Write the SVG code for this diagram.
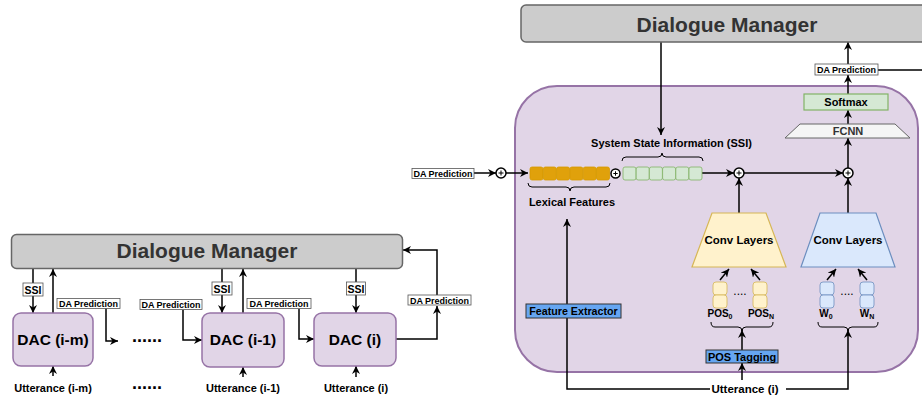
<svg xmlns="http://www.w3.org/2000/svg" width="922" height="400" viewBox="0 0 922 400">
<defs>
<marker id="a" viewBox="0 0 10 10" refX="10" refY="5" markerWidth="8" markerHeight="8" markerUnits="userSpaceOnUse" orient="auto">
<path d="M0,0 L10,5 L0,10 L3,5 z" fill="#000"/>
</marker>
<style>
text{font-family:"Liberation Sans",Arial,sans-serif;font-weight:bold;fill:#000}
.dm{fill:#cccccc;stroke:#666666;stroke-width:1.5}
.dmt{font-size:21px;fill:#333333;text-anchor:middle}
.dac{fill:#e1d5e7;stroke:#9673a6;stroke-width:1.5}
.dact{font-size:15.5px;text-anchor:middle}
.lbl{fill:#ffffff;stroke:#555555;stroke-width:0.8}
.lt{font-size:9px;text-anchor:middle}
.st{font-size:10.5px;text-anchor:middle}
.ut{font-size:11px;text-anchor:middle}
.c{fill:none;stroke:#000;stroke-width:1.5}
.ca{fill:none;stroke:#000;stroke-width:1.5;marker-end:url(#a)}
.br{fill:none;stroke:#000;stroke-width:1}
.org{fill:#e0a10b;stroke:#d79b00;stroke-width:0.8}
.grn{fill:#d5e8d4;stroke:#82b366;stroke-width:0.8}
.yel{fill:#fff2cc;stroke:#d6b656;stroke-width:1.2}
.blu{fill:#dae8fc;stroke:#6c8ebf;stroke-width:1.2}
.tool{fill:#66a6f2;stroke:#333333;stroke-width:1}
.sum{fill:#ffffff;stroke:#000;stroke-width:1.5}
.m{font-size:11px;text-anchor:middle}
.dots{font-size:18px;text-anchor:middle}
</style>
</defs>

<!-- container -->
<g id="model-container">
<rect x="515" y="86" width="403" height="286" rx="42" fill="#e1d5e7" stroke="#9673a6" stroke-width="2"/>
</g>

<!-- connectors -->
<g id="connectors">
<!-- left diagram -->
<path class="ca" d="M33,269 V313"/>
<path class="ca" d="M53,313 V269"/>
<path class="ca" d="M106,308 V341 H118"/>
<path class="ca" d="M183,310 V340 H202"/>
<path class="ca" d="M222,269 V313"/>
<path class="ca" d="M243,313 V269"/>
<path class="ca" d="M299,309 V339 H314"/>
<path class="ca" d="M356,269 V313"/>
<path class="ca" d="M396,339 H437 V306"/>
<path class="ca" d="M437,295 V250 H403"/>
<path class="ca" d="M53,376 V366"/>
<path class="ca" d="M243,377 V367"/>
<path class="ca" d="M356,377 V366"/>
<!-- right diagram -->
<path class="ca" d="M661,42 V135"/>
<path class="ca" d="M474,173 H496"/>
<path class="ca" d="M506,173 H528"/>
<path class="ca" d="M702,173 H734"/>
<path class="ca" d="M744,173 H843"/>
<path class="ca" d="M739,213 V178"/>
<path class="ca" d="M848,213 V178"/>
<path class="ca" d="M848,168 V138"/>
<path class="ca" d="M848,124 V110"/>
<path class="ca" d="M848,94 V75"/>
<path class="ca" d="M848,64 V42"/>
<path class="c" d="M878,70 H922"/>
<path class="ca" d="M720,280 L729,269"/>
<path class="ca" d="M760,280 L751,269"/>
<path class="ca" d="M827,280 L836,269"/>
<path class="ca" d="M867,280 L858,269"/>
<path class="ca" d="M742,350 V330"/>
<path class="ca" d="M742,380 V363"/>
<path class="ca" d="M786,389 H848 V330"/>
<path class="ca" d="M710,389 H567 V219"/>
<!-- braces -->
<path class="br" d="M622,161 Q622,157 626,157 H658 Q662,157 662,153 Q662,157 666,157 H699 Q703,157 703,161"/>
<path class="br" d="M528,183 Q528,187 532,187 H566 Q570,187 570,191 Q570,187 574,187 H606 Q610,187 610,183"/>
<path class="br" d="M711,322 Q711,327 715,327 H738 Q742,327 742,331 Q742,327 746,327 H769 Q773,327 773,322"/>
<path class="br" d="M818,322 Q818,327 822,327 H844 Q848,327 848,331 Q848,327 852,327 H874 Q878,327 878,322"/>
</g>

<!-- left diagram nodes -->
<g id="dm-left">
<rect class="dm" x="11.5" y="234.5" width="391" height="34" rx="5"/>
<text class="dmt" x="207" y="258">Dialogue Manager</text>
</g>
<g id="dac-im">
<rect class="dac" x="13" y="313" width="80" height="53" rx="8"/>
<text class="dact" x="53" y="345">DAC (i-m)</text>
</g>
<g id="dac-i1">
<rect class="dac" x="202" y="313" width="82" height="54" rx="8"/>
<text class="dact" x="243" y="345">DAC (i-1)</text>
</g>
<g id="dac-i">
<rect class="dac" x="314" y="313" width="82" height="53" rx="8"/>
<text class="dact" x="355" y="345">DAC (i)</text>
</g>
<g id="left-labels">
<rect class="lbl" x="23" y="283" width="20" height="13"/>
<text class="st" x="33" y="293.5">SSI</text>
<rect class="lbl" x="212" y="282" width="20" height="13"/>
<text class="st" x="222" y="292.5">SSI</text>
<rect class="lbl" x="346.5" y="282" width="19" height="13"/>
<text class="st" x="356" y="292.5">SSI</text>
<rect class="lbl" x="57" y="298.5" width="63" height="10"/>
<text class="lt" x="88.5" y="307">DA Prediction</text>
<rect class="lbl" x="140" y="299.5" width="62" height="10"/>
<text class="lt" x="171" y="308">DA Prediction</text>
<rect class="lbl" x="247" y="298.5" width="64" height="10"/>
<text class="lt" x="279" y="307">DA Prediction</text>
<rect class="lbl" x="408" y="295" width="63" height="10"/>
<text class="lt" x="439.5" y="303.5">DA Prediction</text>
</g>
<g id="left-dots">
<text class="dots" x="147" y="342">......</text>
<text class="dots" x="147" y="389">......</text>
</g>
<g id="left-utterances">
<text class="ut" x="53" y="392">Utterance (i-m)</text>
<text class="ut" x="243" y="392">Utterance (i-1)</text>
<text class="ut" x="356" y="392">Utterance (i)</text>
</g>

<!-- right diagram nodes -->
<g id="dm-right">
<rect class="dm" x="521" y="5" width="420" height="37" rx="5"/>
<text class="dmt" x="727" y="32">Dialogue Manager</text>
</g>
<g id="da-pred-in">
<rect class="lbl" x="412" y="168.5" width="62" height="10"/>
<text class="lt" x="443" y="177">DA Prediction</text>
</g>
<g id="sum-1">
<circle class="sum" cx="501" cy="173" r="5"/>
<path d="M498.5,173 H503.5 M501,170.5 V175.5" stroke="#000" stroke-width="1"/>
</g>
<g id="lexical-features">
<rect class="org" x="530" y="167" width="13" height="13" rx="2"/>
<rect class="org" x="543.3" y="167" width="13" height="13" rx="2"/>
<rect class="org" x="556.6" y="167" width="13" height="13" rx="2"/>
<rect class="org" x="569.9" y="167" width="13" height="13" rx="2"/>
<rect class="org" x="583.2" y="167" width="13" height="13" rx="2"/>
<rect class="org" x="596.5" y="167" width="13" height="13" rx="2"/>
<text class="m" x="572" y="206">Lexical Features</text>
</g>
<g id="sum-concat">
<circle class="sum" cx="615.5" cy="173.5" r="4.5"/>
<path d="M613.3,173.5 H617.7 M615.5,171.3 V175.7" stroke="#000" stroke-width="1"/>
</g>
<g id="ssi-features">
<rect class="grn" x="623" y="167" width="13" height="13" rx="2"/>
<rect class="grn" x="636.2" y="167" width="13" height="13" rx="2"/>
<rect class="grn" x="649.4" y="167" width="13" height="13" rx="2"/>
<rect class="grn" x="662.6" y="167" width="13" height="13" rx="2"/>
<rect class="grn" x="675.8" y="167" width="13" height="13" rx="2"/>
<rect class="grn" x="689" y="167" width="13" height="13" rx="2"/>
<text class="m" x="671.5" y="147">System State Information (SSI)</text>
</g>
<g id="sum-2">
<circle class="sum" cx="739" cy="173" r="5"/>
<path d="M736.5,173 H741.5 M739,170.5 V175.5" stroke="#000" stroke-width="1"/>
</g>
<g id="sum-3">
<circle class="sum" cx="848" cy="173" r="5"/>
<path d="M845.5,173 H850.5 M848,170.5 V175.5" stroke="#000" stroke-width="1"/>
</g>
<g id="fcnn">
<polygon points="800,124 895,124 910,138 785,138" fill="#f5f5f5" stroke="#666666" stroke-width="1"/>
<text class="m" x="848" y="135" style="fill:#333333">FCNN</text>
</g>
<g id="softmax">
<rect class="grn" x="804" y="94" width="84" height="16" style="stroke-width:1.2"/>
<text class="m" x="846" y="106">Softmax</text>
</g>
<g id="da-pred-out">
<rect class="lbl" x="815" y="64" width="63" height="11"/>
<text class="lt" x="846.5" y="73">DA Prediction</text>
</g>
<g id="conv-pos">
<polygon class="yel" points="712,213 766,213 786,267 692,267"/>
<text class="m" x="739" y="244" style="font-size:11.5px">Conv Layers</text>
</g>
<g id="conv-word">
<polygon class="blu" points="820,213 876,213 895,267 801,267"/>
<text class="m" x="848" y="244" style="font-size:11.5px">Conv Layers</text>
</g>
<g id="pos-vectors">
<rect class="yel" x="713" y="282" width="14" height="13" rx="3" style="stroke-width:0.8"/>
<rect class="yel" x="713" y="295" width="14" height="13" rx="3" style="stroke-width:0.8"/>
<rect class="yel" x="753" y="282" width="14" height="13" rx="3" style="stroke-width:0.8"/>
<rect class="yel" x="753" y="295" width="14" height="13" rx="3" style="stroke-width:0.8"/>
<text x="740" y="295" style="font-size:12px;font-weight:normal;text-anchor:middle">....</text>
<text x="720" y="317" style="font-size:10px;text-anchor:middle">POS<tspan style="font-size:7px" dy="2">0</tspan></text>
<text x="761" y="317" style="font-size:10px;text-anchor:middle">POS<tspan style="font-size:7px" dy="2">N</tspan></text>
</g>
<g id="word-vectors">
<rect class="blu" x="820" y="282" width="14" height="13" rx="3" style="stroke-width:0.8"/>
<rect class="blu" x="820" y="295" width="14" height="13" rx="3" style="stroke-width:0.8"/>
<rect class="blu" x="860" y="282" width="14" height="13" rx="3" style="stroke-width:0.8"/>
<rect class="blu" x="860" y="295" width="14" height="13" rx="3" style="stroke-width:0.8"/>
<text x="847" y="295" style="font-size:12px;font-weight:normal;text-anchor:middle">....</text>
<text x="826" y="317" style="font-size:10px;text-anchor:middle">W<tspan style="font-size:7px" dy="2">0</tspan></text>
<text x="867" y="317" style="font-size:10px;text-anchor:middle">W<tspan style="font-size:7px" dy="2">N</tspan></text>
</g>
<g id="feature-extractor">
<rect class="tool" x="526" y="304" width="95" height="14"/>
<text x="573.5" y="315" style="font-size:10.7px;text-anchor:middle">Feature Extractor</text>
</g>
<g id="pos-tagging">
<rect class="tool" x="706" y="350" width="72" height="13"/>
<text x="742" y="361" style="font-size:11px;text-anchor:middle">POS Tagging</text>
</g>
<g id="utterance-i">
<text x="745" y="393" style="font-size:11.5px;text-anchor:middle">Utterance (i)</text>
</g>
</svg>
